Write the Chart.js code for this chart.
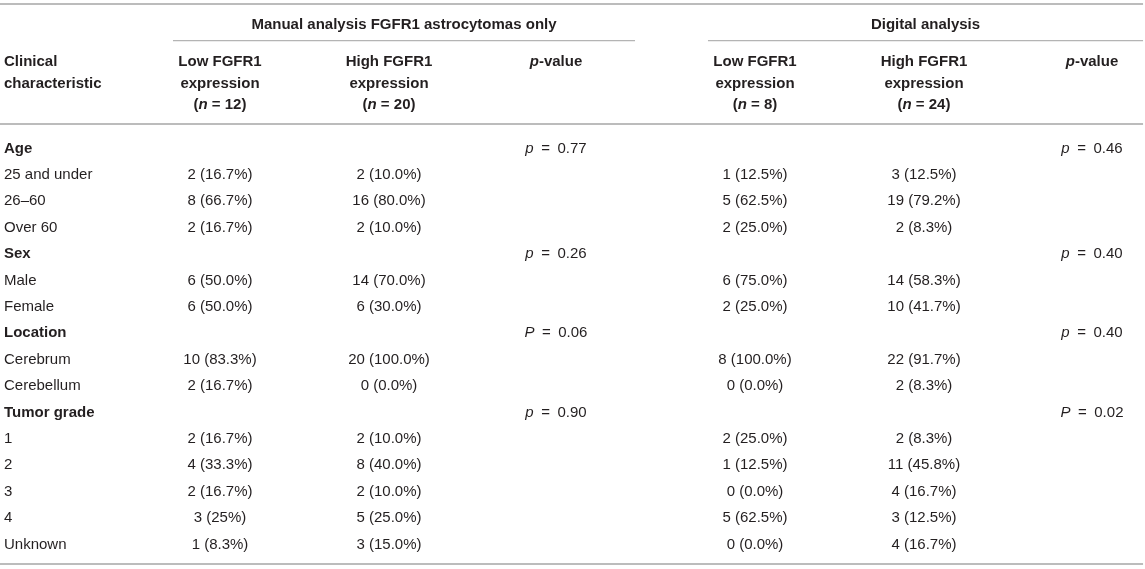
<!DOCTYPE html>
<html>
<head>
<meta charset="utf-8">
<script src="https://cdn.jsdelivr.net/npm/chart.js@4"></script>
<style>
  html, body { margin: 0; padding: 0; background: #fff; }
  #wrap { width: 1145px; height: 569px; position: relative; }
</style>
</head>
<body>
<div id="wrap"><canvas id="tableChart"></canvas></div>
<script>
// row labels (group headings are bold)
const rowLabels = ['Age', '25 and under', '26–60', 'Over 60',
  'Sex', 'Male', 'Female',
  'Location', 'Cerebrum', 'Cerebellum',
  'Tumor grade', '1', '2', '3', '4', 'Unknown'];
const groupRows = ['Age', 'Sex', 'Location', 'Tumor grade'];

// manual analysis, counts and percentages (null = group heading row)
const manualLowN    = [null, 2, 8, 2, null, 6, 6, null, 10, 2, null, 2, 4, 2, 3, 1];
const manualLowPct  = [null, '16.7', '66.7', '16.7', null, '50.0', '50.0', null, '83.3', '16.7', null, '16.7', '33.3', '16.7', '25', '8.3'];
const manualHighN   = [null, 2, 16, 2, null, 14, 6, null, 20, 0, null, 2, 8, 2, 5, 3];
const manualHighPct = [null, '10.0', '80.0', '10.0', null, '70.0', '30.0', null, '100.0', '0.0', null, '10.0', '40.0', '10.0', '25.0', '15.0'];

// digital analysis
const digitalLowN    = [null, 1, 5, 2, null, 6, 2, null, 8, 0, null, 2, 1, 0, 5, 0];
const digitalLowPct  = [null, '12.5', '62.5', '25.0', null, '75.0', '25.0', null, '100.0', '0.0', null, '25.0', '12.5', '0.0', '62.5', '0.0'];
const digitalHighN   = [null, 3, 19, 2, null, 14, 10, null, 22, 2, null, 2, 11, 4, 3, 4];
const digitalHighPct = [null, '12.5', '79.2', '8.3', null, '58.3', '41.7', null, '91.7', '8.3', null, '8.3', '45.8', '16.7', '12.5', '16.7'];

// p-values per group: [letter, value]
const manualP  = [['p', '0.77'], ['p', '0.26'], ['P', '0.06'], ['p', '0.90']];
const digitalP = [['p', '0.46'], ['p', '0.40'], ['p', '0.40'], ['P', '0.02']];

// column headings
const groupTitles = ['Manual analysis FGFR1 astrocytomas only', 'Digital analysis'];
const groupN = [[12, 20], [8, 24]];

// layout: column positions in column units, header rows in row units
const colPos = [-0.282, 1, 2.003, 2.994, 4.175, 5.178, 6.175];
const groupSpan = [[0.721, 3.463], [3.896, 6.478]];
const tableSpan = [-0.306, 6.478];
const headY = { top: -5.417, title: -4.697, sub: -4.027, h1: -3.295, h2: -2.462, h3: -1.667, head: -0.871, bottom: 15.795 };

const FONT = '"Liberation Sans", Arial, Helvetica, sans-serif';
const TEXT = '#231f20';
const TEXT_SHIFT = 1.5; // canvas 'middle' sits a bit high for this font

function cell(n, pct) {
  return n === null ? null : n + ' (' + pct + '%)';
}

// rich text: segments of {t, i (italic), b (bold)}
function drawRich(ctx, segs, x, y, align) {
  const fontOf = s => (s.i ? 'italic ' : '') + (s.b ? 'bold ' : '') + '15px ' + FONT;
  let total = 0;
  segs.forEach(s => { ctx.font = fontOf(s); total += ctx.measureText(s.t).width; });
  let cx = align === 'left' ? x : x - total / 2;
  ctx.textAlign = 'left';
  ctx.textBaseline = 'middle';
  ctx.fillStyle = TEXT;
  segs.forEach(s => {
    ctx.font = fontOf(s);
    ctx.fillText(s.t, cx, y + TEXT_SHIFT);
    cx += ctx.measureText(s.t).width;
  });
}

function pSegs(p) {
  return [{ t: p[0], i: true }, { t: '\u2002=\u2002' + p[1] }];
}

// one scatter dataset per table column, one invisible point per filled cell
function columnDataset(col, texts) {
  const pts = [];
  const labels = [];
  texts.forEach((t, r) => {
    if (t !== null) { pts.push({ x: colPos[col], y: r }); labels.push(t); }
  });
  return { data: pts, cellText: labels, col: col, pointRadius: 0, pointHoverRadius: 0 };
}

const groupIdx = rowLabels.map(l => groupRows.indexOf(l));
const datasets = [
  columnDataset(0, rowLabels.map(l => [{ t: l, b: groupRows.includes(l) }])),
  columnDataset(1, manualLowN.map((n, r) => n === null ? null : [{ t: cell(n, manualLowPct[r]) }])),
  columnDataset(2, manualHighN.map((n, r) => n === null ? null : [{ t: cell(n, manualHighPct[r]) }])),
  columnDataset(3, groupIdx.map(g => g < 0 ? null : pSegs(manualP[g]))),
  columnDataset(4, digitalLowN.map((n, r) => n === null ? null : [{ t: cell(n, digitalLowPct[r]) }])),
  columnDataset(5, digitalHighN.map((n, r) => n === null ? null : [{ t: cell(n, digitalHighPct[r]) }])),
  columnDataset(6, groupIdx.map(g => g < 0 ? null : pSegs(digitalP[g])))
];

const tablePlugin = {
  id: 'tablePlugin',
  beforeDatasetsDraw(chart) {
    const ctx = chart.ctx;
    const xs = chart.scales.x, ys = chart.scales.y;
    const hline = (x0, x1, yv, w, color) => {
      const py = ys.getPixelForValue(yv);
      ctx.save();
      ctx.strokeStyle = color;
      ctx.lineWidth = w;
      ctx.beginPath();
      ctx.moveTo(xs.getPixelForValue(x0), py);
      ctx.lineTo(xs.getPixelForValue(x1), py);
      ctx.stroke();
      ctx.restore();
    };
    hline(tableSpan[0], tableSpan[1], headY.top, 2, '#bcbcbc');
    hline(tableSpan[0], tableSpan[1], headY.head, 2, '#bcbcbc');
    hline(tableSpan[0], tableSpan[1], headY.bottom, 2, '#bcbcbc');
    groupSpan.forEach(s => hline(s[0], s[1], headY.sub, 1.2, '#b4b4b4'));

    ctx.save();
    // group titles
    groupTitles.forEach((t, g) => {
      const cx = xs.getPixelForValue((groupSpan[g][0] + groupSpan[g][1]) / 2);
      drawRich(ctx, [{ t: t, b: true }], cx, ys.getPixelForValue(headY.title), 'center');
    });
    // first column heading
    const lx = xs.getPixelForValue(colPos[0]);
    drawRich(ctx, [{ t: 'Clinical', b: true }], lx, ys.getPixelForValue(headY.h1), 'left');
    drawRich(ctx, [{ t: 'characteristic', b: true }], lx, ys.getPixelForValue(headY.h2), 'left');
    // expression columns and p-value columns
    [0, 1].forEach(g => {
      const base = 1 + g * 3;
      ['Low', 'High'].forEach((lvl, k) => {
        const cx = xs.getPixelForValue(colPos[base + k]);
        drawRich(ctx, [{ t: lvl + ' FGFR1', b: true }], cx, ys.getPixelForValue(headY.h1), 'center');
        drawRich(ctx, [{ t: 'expression', b: true }], cx, ys.getPixelForValue(headY.h2), 'center');
        drawRich(ctx, [{ t: '(', b: true }, { t: 'n', b: true, i: true }, { t: ' = ' + groupN[g][k] + ')', b: true }],
          cx, ys.getPixelForValue(headY.h3), 'center');
      });
      drawRich(ctx, [{ t: 'p', b: true, i: true }, { t: '-value', b: true }],
        xs.getPixelForValue(colPos[base + 2]), ys.getPixelForValue(headY.h1), 'center');
    });
    ctx.restore();
  },
  afterDatasetsDraw(chart) {
    const ctx = chart.ctx;
    ctx.save();
    chart.data.datasets.forEach((ds, di) => {
      chart.getDatasetMeta(di).data.forEach((el, i) => {
        drawRich(ctx, ds.cellText[i], el.x, el.y, ds.col === 0 ? 'left' : 'center');
      });
    });
    ctx.restore();
  }
};

new Chart(document.getElementById('tableChart'), {
  type: 'scatter',
  data: { datasets: datasets },
  options: {
    responsive: true,
    maintainAspectRatio: false,
    animation: false,
    events: [],
    layout: { padding: 0 },
    plugins: { legend: { display: false }, tooltip: { enabled: false }, title: { display: false } },
    scales: {
      x: { type: 'linear', display: false, min: -0.3056, max: 6.4896 },
      y: { type: 'linear', display: false, reverse: true, min: -5.568, max: 15.985 }
    }
  },
  plugins: [tablePlugin]
});
</script>
</body>
</html>
